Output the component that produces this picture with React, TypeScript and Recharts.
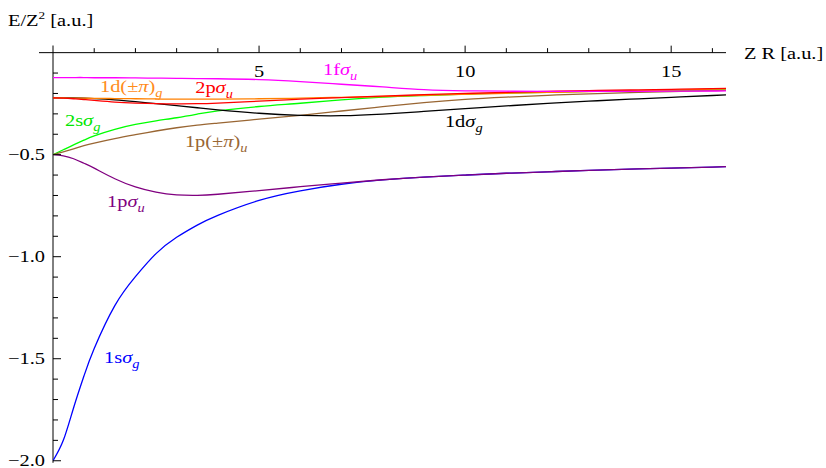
import React from "react"
import { LineChart, Line, XAxis, YAxis, ReferenceLine, ReferenceDot } from "recharts"

// internuclear distance Z R [a.u.]
const zr = [0, 0.25, 0.5, 0.75, 1, 1.5, 2, 2.5, 3, 3.5, 4, 5, 6, 7, 8, 9, 10, 11, 12, 13, 14, 15, 16, 16.33]

// E/Z^2 [a.u.] for each state
const e1sSigmaG = [-2.0, -1.9, -1.74, -1.585, -1.45, -1.24, -1.098, -0.985, -0.905, -0.845, -0.797, -0.724, -0.677, -0.645, -0.624, -0.61, -0.6, -0.591, -0.584, -0.577, -0.571, -0.566, -0.561, -0.559]
const e1pSigmaU = [-0.5, -0.506, -0.52, -0.542, -0.566, -0.618, -0.658, -0.684, -0.697, -0.699, -0.694, -0.676, -0.657, -0.639, -0.623, -0.61, -0.6, -0.591, -0.584, -0.577, -0.571, -0.566, -0.561, -0.559]
const e2sSigmaG = [-0.5, -0.476, -0.452, -0.429, -0.408, -0.376, -0.352, -0.334, -0.319, -0.301, -0.285, -0.264, -0.248, -0.231, -0.218, -0.21, -0.203, -0.198, -0.194, -0.19, -0.187, -0.185, -0.183, -0.182]
const e1pPiU = [-0.5, -0.486, -0.471, -0.456, -0.443, -0.421, -0.402, -0.384, -0.368, -0.355, -0.345, -0.326, -0.307, -0.286, -0.265, -0.245, -0.229, -0.218, -0.209, -0.202, -0.196, -0.191, -0.186, -0.185]
const e1dSigmaG = [-0.222, -0.222, -0.222, -0.223, -0.225, -0.231, -0.24, -0.25, -0.26, -0.27, -0.28, -0.297, -0.307, -0.309, -0.301, -0.288, -0.274, -0.261, -0.249, -0.238, -0.228, -0.219, -0.21, -0.207]
const e1dPiG = [-0.222, -0.222, -0.223, -0.223, -0.224, -0.225, -0.226, -0.227, -0.228, -0.228, -0.228, -0.226, -0.223, -0.219, -0.215, -0.209, -0.204, -0.199, -0.195, -0.191, -0.187, -0.183, -0.179, -0.178]
const e2pSigmaU = [-0.222, -0.223, -0.226, -0.23, -0.234, -0.242, -0.247, -0.25, -0.251, -0.25, -0.247, -0.238, -0.228, -0.22, -0.213, -0.206, -0.2, -0.195, -0.19, -0.186, -0.183, -0.18, -0.176, -0.175]
const e1fSigmaU = [-0.122, -0.122, -0.122, -0.122, -0.123, -0.123, -0.124, -0.125, -0.126, -0.127, -0.128, -0.132, -0.142, -0.155, -0.168, -0.181, -0.187, -0.189, -0.19, -0.19, -0.19, -0.189, -0.188, -0.187]

const xMajorTicks = [5, 10, 15]
const xMinorTicks = [1, 2, 3, 4, 6, 7, 8, 9, 11, 12, 13, 14, 16]
const yMajorTicks = [-0.5, -1.0, -1.5, -2.0]
const yMinorTicks = [-0.1, -0.2, -0.3, -0.4, -0.6, -0.7, -0.8, -0.9, -1.1, -1.2, -1.3, -1.4, -1.6, -1.7, -1.8, -1.9]

const series = [
  { key: "s1sSigmaG", values: e1sSigmaG, color: "#0000ff" },
  { key: "s1pSigmaU", values: e1pSigmaU, color: "#800080" },
  { key: "s2sSigmaG", values: e2sSigmaG, color: "#00ff00" },
  { key: "s1pPiU", values: e1pPiU, color: "#996633" },
  { key: "s1dSigmaG", values: e1dSigmaG, color: "#000000" },
  { key: "s1dPiG", values: e1dPiG, color: "#ff8000" },
  { key: "s2pSigmaU", values: e2pSigmaU, color: "#ff0000" },
  { key: "s1fSigmaU", values: e1fSigmaU, color: "#ff00ff" },
]

const data = zr.map((x, i) => {
  const row: Record<string, number> = { x }
  series.forEach((s) => (row[s.key] = s.values[i]))
  return row
})

type Piece = { t: string; it?: boolean; sub?: boolean }

// state labels: anchor in data coords (left end, baseline)
const labels: { x: number; y: number; color: string; parts: Piece[] }[] = [
  { x: 6.55, y: -0.109, color: "#ff00ff", parts: [{ t: "1f" }, { t: "σ", it: true }, { t: "u", it: true, sub: true }] },
  { x: 3.45, y: -0.198, color: "#ff0000", parts: [{ t: "2p" }, { t: "σ", it: true }, { t: "u", it: true, sub: true }] },
  { x: 1.14, y: -0.193, color: "#ff8c1a", parts: [{ t: "1d(±" }, { t: "π", it: true }, { t: ")" }, { t: "g", it: true, sub: true }] },
  { x: 0.29, y: -0.359, color: "#00e600", parts: [{ t: "2s" }, { t: "σ", it: true }, { t: "g", it: true, sub: true }] },
  { x: 3.2, y: -0.462, color: "#996633", parts: [{ t: "1p(±" }, { t: "π", it: true }, { t: ")" }, { t: "u", it: true, sub: true }] },
  { x: 9.51, y: -0.364, color: "#000000", parts: [{ t: "1d" }, { t: "σ", it: true }, { t: "g", it: true, sub: true }] },
  { x: 1.31, y: -0.756, color: "#800080", parts: [{ t: "1p" }, { t: "σ", it: true }, { t: "u", it: true, sub: true }] },
  { x: 1.24, y: -1.521, color: "#0000ff", parts: [{ t: "1s" }, { t: "σ", it: true }, { t: "g", it: true, sub: true }] },
]

const FONT = "Liberation Serif, Times New Roman, serif"
const SX = 1.2

const Txt = ({ x, y, anchor = "start", size = 17, fill = "#000", children }: any) => (
  <text
    transform={`translate(${x},${y}) scale(${SX},1)`}
    textAnchor={anchor}
    style={{ fontFamily: FONT }}
    fontSize={size}
    fill={fill}
  >
    {children}
  </text>
)

const renderParts = (parts: Piece[]) =>
  parts.map((p, i) => (
    <tspan key={i} fontStyle={p.it ? "italic" : "normal"} fontSize={p.sub ? 12 : undefined} dy={p.sub ? 5 : 0}>
      {p.t}
    </tspan>
  ))

const fmtY = (v: number) => `\u2212${Math.abs(v).toFixed(1)}`

export default function App() {
  return (
    <div style={{ position: "absolute", left: 0, top: 0, width: 826, height: 468, background: "#fff" }}>
      <LineChart width={826} height={468} data={data} margin={{ top: 45.5, right: 100, bottom: 5.2, left: 53 }}>
        <XAxis type="number" dataKey="x" domain={[0, 16.33]} hide allowDataOverflow />
        <YAxis type="number" domain={[-2.01, 0.035]} hide allowDataOverflow />

        {/* axes */}
        <ReferenceLine x={0} stroke="#000" strokeWidth={1} />
        <ReferenceLine y={0} stroke="#000" strokeWidth={1} />
        <ReferenceDot
          x={0}
          y={0}
          r={0}
          shape={(p: any) => <line x1={p.cx - 14} y1={p.cy} x2={p.cx} y2={p.cy} stroke="#000" />}
        />

        {xMajorTicks.map((t) => (
          <ReferenceDot
            key={`xM${t}`}
            x={t}
            y={0}
            r={0}
            shape={(p: any) => (
              <g>
                <line x1={p.cx} y1={p.cy} x2={p.cx} y2={p.cy - 7} stroke="#000" />
                <Txt x={p.cx} y={p.cy + 24} anchor="middle">{t}</Txt>
              </g>
            )}
          />
        ))}
        {xMinorTicks.map((t) => (
          <ReferenceDot
            key={`xm${t}`}
            x={t}
            y={0}
            r={0}
            shape={(p: any) => <line x1={p.cx} y1={p.cy} x2={p.cx} y2={p.cy - 4.5} stroke="#000" />}
          />
        ))}
        {yMajorTicks.map((t) => (
          <ReferenceDot
            key={`yM${t}`}
            x={0}
            y={t}
            r={0}
            shape={(p: any) => (
              <g>
                <line x1={p.cx} y1={p.cy} x2={p.cx + 8} y2={p.cy} stroke="#000" />
                <Txt x={p.cx - 8} y={p.cy + 5} anchor="end">{fmtY(t)}</Txt>
              </g>
            )}
          />
        ))}
        {yMinorTicks.map((t) => (
          <ReferenceDot
            key={`ym${t}`}
            x={0}
            y={t}
            r={0}
            shape={(p: any) => <line x1={p.cx} y1={p.cy} x2={p.cx + 5} y2={p.cy} stroke="#000" />}
          />
        ))}

        {series.map((s) => (
          <Line
            key={s.key}
            type="natural"
            dataKey={s.key}
            stroke={s.color}
            strokeWidth={1.3}
            dot={false}
            activeDot={false}
            isAnimationActive={false}
          />
        ))}

        {labels.map((l, i) => (
          <ReferenceDot
            key={`lab${i}`}
            x={l.x}
            y={l.y}
            r={0}
            shape={(p: any) => (
              <Txt x={p.cx} y={p.cy} fill={l.color}>
                {renderParts(l.parts)}
              </Txt>
            )}
          />
        ))}
      </LineChart>

      <svg width={826} height={468} style={{ position: "absolute", left: 0, top: 0, pointerEvents: "none" }}>
        <Txt x={8} y={26}>
          E/Z<tspan fontSize={11} dy={-7}>2</tspan>
          <tspan dy={7}> [a.u.]</tspan>
        </Txt>
        <Txt x={744} y={59}>Z R [a.u.]</Txt>
      </svg>
    </div>
  )
}
